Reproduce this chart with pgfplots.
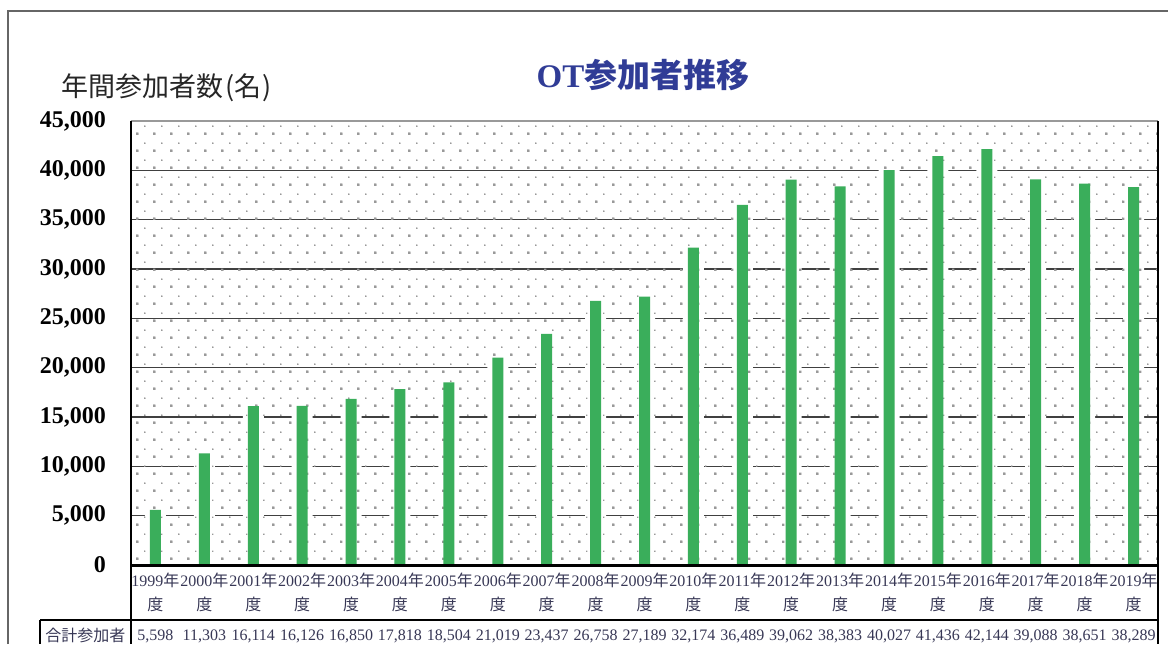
\documentclass[border=0pt]{standalone}
\usepackage{pgfplots}
\pgfplotsset{compat=1.18}
\usepackage{pgfplotstable}
\usetikzlibrary{patterns}
\usepackage{fontspec}
\setmainfont{Liberation Serif}
\newfontfamily\cjk{Noto Sans CJK JP}
\definecolor{bargreen}{RGB}{58,174,91}
\definecolor{titleblue}{RGB}{48,60,150}
\definecolor{labelcol}{RGB}{55,55,85}
\pgfdeclarepatternformonly{exceldots}{\pgfpointorigin}{\pgfpoint{8.5pt}{8.5pt}}{\pgfpoint{8.5pt}{8.5pt}}{%
  \pgfpathrectangle{\pgfpoint{0pt}{0pt}}{\pgfpoint{1.2pt}{1.2pt}}%
  \pgfpathrectangle{\pgfpoint{4.25pt}{4.25pt}}{\pgfpoint{0.7pt}{0.7pt}}%
  \pgfusepath{fill}}
\pgfkeys{/pgf/number format/.cd,1000 sep={,},assume math mode=true}
\newcommand{\yr}[1]{#1{\cjk 年}\\{\cjk 度}}
\pgfplotstableread{
i year v
0 1999 5598
1 2000 11303
2 2001 16114
3 2002 16126
4 2003 16850
5 2004 17818
6 2005 18504
7 2006 21019
8 2007 23437
9 2008 26758
10 2009 27189
11 2010 32174
12 2011 36489
13 2012 39062
14 2013 38383
15 2014 40027
16 2015 41436
17 2016 42144
18 2017 39088
19 2018 38651
20 2019 38289
}\otdata
\begin{document}
\begin{tikzpicture}
\useasboundingbox (0,0) rectangle (584pt,322pt);
\begin{axis}[
  at={(65.5pt,39.5pt)}, anchor=south west,
  width=513.5pt, height=222pt, scale only axis,
  xmin=-0.5, xmax=20.5, ymin=0, ymax=45000,
  ytick={0,5000,...,45000},
  xtick={0,...,20},
  xticklabels={\yr{1999},\yr{2000},\yr{2001},\yr{2002},\yr{2003},\yr{2004},\yr{2005},\yr{2006},\yr{2007},\yr{2008},\yr{2009},\yr{2010},\yr{2011},\yr{2012},\yr{2013},\yr{2014},\yr{2015},\yr{2016},\yr{2017},\yr{2018},\yr{2019}},
  axis line style={draw=none},
  major tick length=0pt,
  ymajorgrids, grid style={draw=black!75, line width=0.6pt},
  axis background/.style={pattern=exceldots, pattern color=black!40},
  scaled y ticks=false,
  yticklabel style={font=\bfseries\fontsize{12}{14}\selectfont, xshift=-9pt},
  xticklabel style={font=\fontsize{8}{12}\selectfont, text=labelcol, align=center, anchor=north, inner sep=0pt, yshift=-4pt},
  clip=false,
]
\addplot[ybar, bar width=10.5pt, bar shift=0pt, fill=white, draw=none] table[x=i,y=v]{\otdata};
\fill[pattern=exceldots, pattern color=black!40] (rel axis cs:0,0) rectangle (rel axis cs:1,1);
\addplot[ybar, bar width=5.5pt, bar shift=0pt, fill=bargreen, draw=none] table[x=i,y=v]{\otdata};
\addplot[draw=none, mark=none, nodes near coords, point meta=\thisrow{v},
  every node near coord/.append style={font=\fontsize{8}{10}\selectfont, text=labelcol, anchor=center, yshift=-35.5pt,
  /pgf/number format/.cd, fixed, precision=0, 1000 sep={,}}] table[x=i, y expr=0]{\otdata};
\draw[black!40, line width=1pt] (rel axis cs:0,1) -- (rel axis cs:1,1);
\draw[black, line width=0.8pt] (rel axis cs:0,0) -- (rel axis cs:0,1);
\draw[black, line width=0.8pt] (rel axis cs:1,0) -- (rel axis cs:1,1);
\end{axis}
\draw[line width=1.5pt] (65.5pt,39.5pt) -- (579pt,39.5pt);
\draw[line width=1.3pt] (20pt,12pt) -- (579pt,12pt);
\draw[line width=1.3pt] (65.5pt,39.5pt) -- (65.5pt,0pt);
\draw[line width=1.3pt] (579pt,39.5pt) -- (579pt,0pt);
\draw[line width=1.3pt] (20pt,12pt) -- (20pt,0pt);
\draw[black!60, line width=0.6pt] (4pt,0pt) -- (4pt,316.5pt) -- (584pt,316.5pt);
\node[text=labelcol, font=\cjk\fontsize{8}{10}\selectfont, inner sep=0pt] at (42.75pt,4.5pt) {合計参加者};
\node[text=titleblue, font=\bfseries\fontsize{16.5}{20}\selectfont, inner sep=0pt] at (321.5pt,284.5pt) {OT{\cjk\bfseries 参加者推移}};
\node[text=black!85, font=\cjk\fontsize{13.5}{15}\selectfont, anchor=west, inner sep=0pt] at (30.5pt,278pt) {年間参加者数\hspace{1pt}(名\hspace{0.5pt})};
\end{tikzpicture}
\end{document}
